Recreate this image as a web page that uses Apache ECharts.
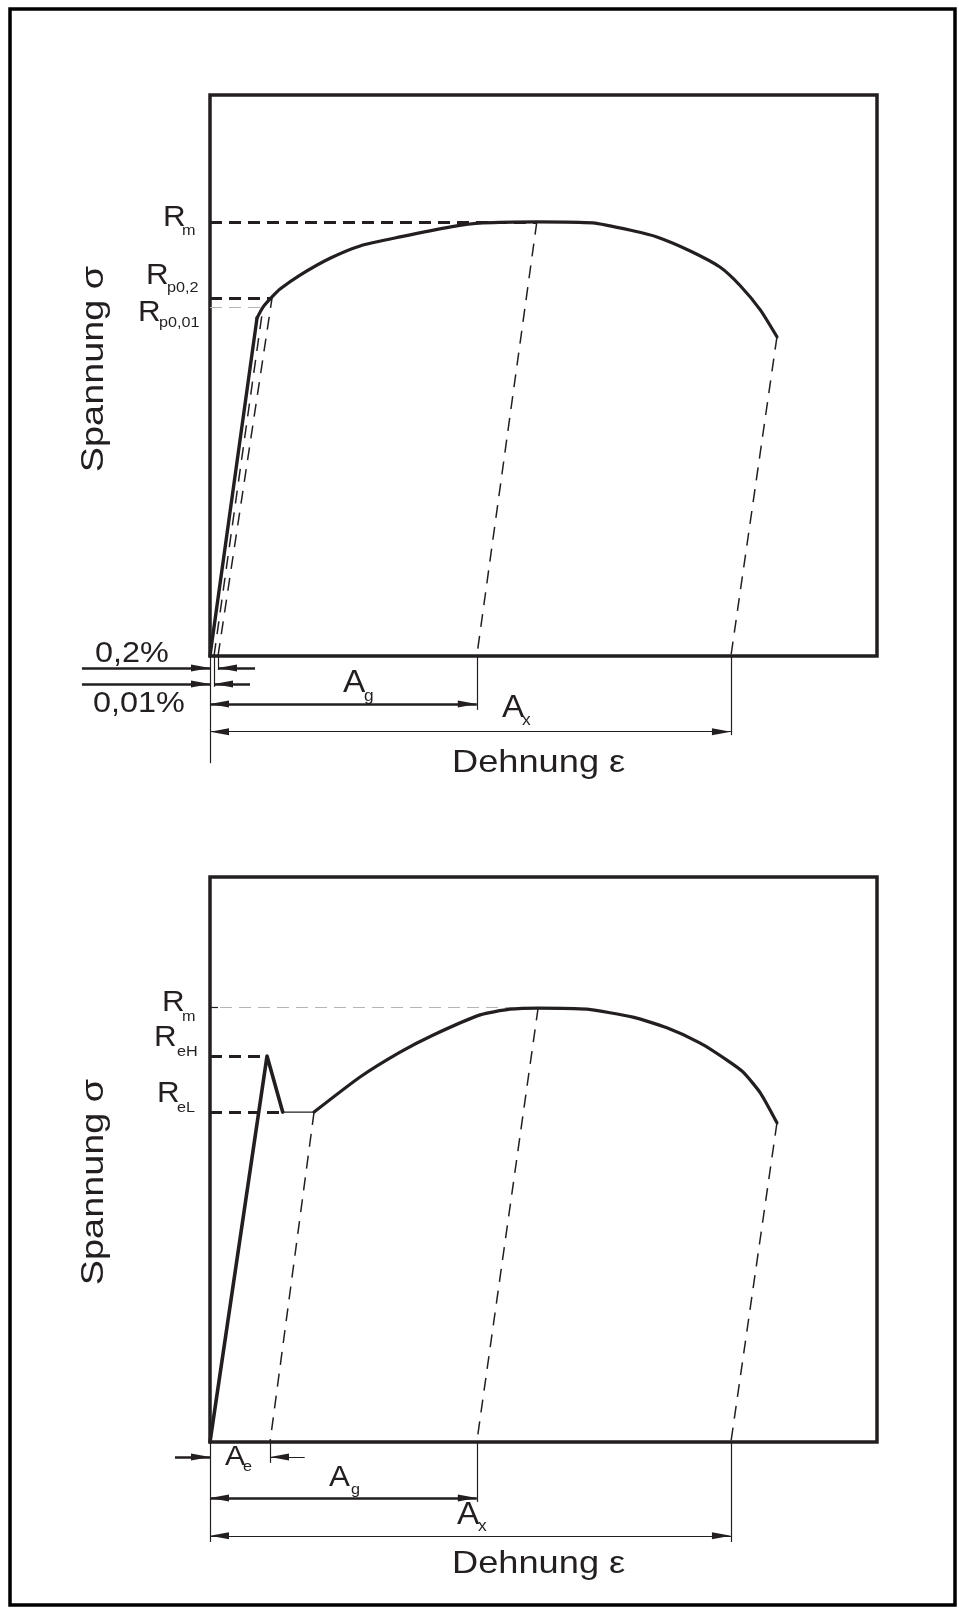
<!DOCTYPE html>
<html>
<head>
<meta charset="utf-8">
<script src="https://cdn.jsdelivr.net/npm/echarts@6/dist/echarts.min.js"></script>
<style>
html, body { margin: 0; padding: 0; background: #fff; }
#main { width: 959px; height: 1609px; }
</style>
</head>
<body>
<div id="main"></div>
<script>
// Two stress-strain sketches. Units are arbitrary: strain 0..100 across the box,
// stress 0..100 up the box.
var INK = '#231f20';
var GREY = '#b4b4b4';

// upper: continuous yielding
var upperCurve = [[0, 0], [7.05, 60.25], [7.95, 62.2], [9.3, 64.0], [10.5, 65.4], [13.5, 67.9],
  [18.0, 70.9], [22.5, 73.1], [28.5, 74.7], [36.1, 76.5], [40.9, 77.2], [49.0, 77.4], [57.4, 77.2],
  [63.4, 75.8], [67.0, 74.7], [72.0, 72.2], [76.5, 69.3], [79.5, 66.0], [82.5, 61.7], [85.0, 56.9]];
var upperLevels = [77.4, 63.8, 62.2];          // Rm, Rp0,2, Rp0,01
var upperLevelX = [49.0, 9.3, 7.95];           // where each level meets the curve
var upperOffsets = [1.2, 0.6];                 // 0,2 % and 0,01 % offset on the strain axis
var upperStrains = [40.0, 78.1];               // Ag, Ax

// lower: yield point
var lowerYield = [[0, 0], [8.55, 68.3], [10.9, 58.4]];
var lowerPlateau = [[10.9, 58.4], [15.6, 58.4]];
var lowerCurve = [[15.6, 58.4], [22.5, 64.6], [28.5, 69.0], [33.4, 72.0], [40.5, 75.6], [45.0, 76.6],
  [49.2, 76.8], [56.5, 76.6], [63.4, 75.2], [68.5, 73.3], [73.5, 70.6], [77.5, 67.6], [79.9, 65.5],
  [82.5, 61.8], [85.0, 56.5]];
var lowerLevels = [76.9, 68.3, 58.4];          // Rm, ReH, ReL
var lowerLevelX = [49.2, 8.55, 10.9];
var lowerStrains = [9.0, 40.0, 78.1];          // Ae, Ag, Ax

var ARROW_L = 'path://M0,5L20,0L20,10Z';
var ARROW_R = 'path://M20,5L0,0L0,10Z';

function segs(list, gi, style) {
  return {
    type: 'lines', coordinateSystem: 'cartesian2d', xAxisIndex: gi, yAxisIndex: gi,
    clip: false, silent: true, animation: false,
    lineStyle: Object.assign({ color: INK, opacity: 1, curveness: 0 }, style),
    data: list.map(function (s) { return { coords: s }; })
  };
}

function curve(pts, gi, width, smooth) {
  return {
    type: 'line', xAxisIndex: gi, yAxisIndex: gi, data: pts, showSymbol: false, symbol: 'none',
    clip: false, silent: true, animation: false, smooth: smooth || false,
    lineStyle: { color: INK, width: width, join: 'round', cap: 'round' }
  };
}

function arrows(points, dir, gi) {
  return {
    type: 'scatter', xAxisIndex: gi, yAxisIndex: gi, clip: false, silent: true, animation: false,
    symbol: dir < 0 ? ARROW_L : ARROW_R, symbolSize: [19, 7],
    symbolOffset: [dir < 0 ? 9.5 : -9.5, 0],
    itemStyle: { color: INK, opacity: 1 }, data: points
  };
}

var thickDash = { width: 3, type: [12, 7] };
var thinDash = { width: 1.5, type: [13, 9] };
var greyDash = { width: 1, type: [12, 7], color: GREY };

// dimension rows below each box (stress units, negative = below the strain axis)
var uRow = { p02: -2.14, p001: -5.0, ag: -8.56, ax: -13.5 };
var lRow = { ae: -2.65, ag: -9.9, ax: -16.6 };

var series = [
  // ---- upper ----
  curve(upperCurve.slice(0, 2), 0, 3.4),
  curve(upperCurve.slice(1), 0, 3.2, 0.2),
  segs([
    [[0, upperLevels[0]], [upperLevelX[0], upperLevels[0]]],
    [[0, upperLevels[1]], [upperLevelX[1], upperLevels[1]]]
  ], 0, thickDash),
  segs([[[0, upperLevels[2]], [upperLevelX[2], upperLevels[2]]]], 0, greyDash),
  segs([
    [[upperLevelX[0], upperLevels[0]], [upperStrains[0], 0]],
    [upperCurve[upperCurve.length - 1], [upperStrains[1], 0]],
    [[upperOffsets[0], 0], [upperLevelX[1], upperLevels[1]]],
    [[upperOffsets[1], 0], [upperLevelX[2], upperLevels[2]]]
  ], 0, thinDash),
  segs([
    [[-19.2, uRow.p02], [0, uRow.p02]], [[6.75, uRow.p02], [upperOffsets[0], uRow.p02]],
    [[-19.2, uRow.p001], [0, uRow.p001]], [[6.0, uRow.p001], [upperOffsets[1], uRow.p001]],
    [[0, uRow.ag], [upperStrains[0], uRow.ag]]
  ], 0, { width: 2.5 }),
  segs([
    [[0, uRow.ax], [upperStrains[1], uRow.ax]],
    [[0, 0], [0, -19.1]],
    [[upperStrains[0], 0], [upperStrains[0], -9.6]],
    [[upperStrains[1], 0], [upperStrains[1], -14.1]],
    [[upperOffsets[0], 0], [upperOffsets[0], -2.5]],
    [[upperOffsets[1], 0], [upperOffsets[1], -5.5]]
  ], 0, { width: 1.2 }),
  arrows([[0, uRow.p02], [0, uRow.p001], [upperStrains[0], uRow.ag], [upperStrains[1], uRow.ax]], 1, 0),
  arrows([[upperOffsets[0], uRow.p02], [upperOffsets[1], uRow.p001], [0, uRow.ag], [0, uRow.ax]], -1, 0),

  // ---- lower ----
  curve(lowerYield, 1, 3.6),
  curve(lowerPlateau, 1, 1.2),
  curve(lowerCurve, 1, 3.2, 0.2),
  segs([
    [[0, lowerLevels[1]], [lowerLevelX[1], lowerLevels[1]]],
    [[0, lowerLevels[2]], [lowerLevelX[2], lowerLevels[2]]]
  ], 1, thickDash),
  segs([[[1.5, lowerLevels[0]], [lowerLevelX[0], lowerLevels[0]]]], 1, greyDash),
  segs([[[0, lowerLevels[0]], [1.2, lowerLevels[0]]]], 1, { width: 1.2 }),
  segs([
    [[lowerLevelX[0], lowerLevels[0]], [lowerStrains[1], 0]],
    [lowerCurve[lowerCurve.length - 1], [lowerStrains[2], 0]],
    [lowerPlateau[1], [lowerStrains[0], 0]]
  ], 1, thinDash),
  segs([
    [[-5.25, lRow.ae], [0, lRow.ae]],
    [[0, lRow.ag], [lowerStrains[1], lRow.ag]]
  ], 1, { width: 2.5 }),
  segs([
    [[14.2, lRow.ae], [lowerStrains[0], lRow.ae]],
    [[0, lRow.ax], [lowerStrains[2], lRow.ax]],
    [[0, 0], [0, -17.7]],
    [[lowerStrains[0], 0], [lowerStrains[0], -3.7]],
    [[lowerStrains[1], 0], [lowerStrains[1], -10.6]],
    [[lowerStrains[2], 0], [lowerStrains[2], -17.7]]
  ], 1, { width: 1.2 }),
  arrows([[0, lRow.ae], [lowerStrains[1], lRow.ag], [lowerStrains[2], lRow.ax]], 1, 1),
  arrows([[lowerStrains[0], lRow.ae], [0, lRow.ag], [0, lRow.ax]], -1, 1)
];

var FONT = '"Liberation Sans", Arial, sans-serif';
function txt(x, y, s, size, sx) {
  return {
    type: 'text', x: x, y: y, scaleX: sx || 1.08, silent: true,
    style: { text: s, font: size + 'px ' + FONT, fill: INK, textAlign: 'left',
      verticalAlign: 'middle', textVerticalAlign: 'middle' }
  };
}
function vtitle(cx, cy) {
  return {
    type: 'text', x: cx, y: cy, rotation: Math.PI / 2, scaleX: 1.22, silent: true,
    style: { text: 'Spannung σ', font: '31px ' + FONT, fill: INK, textAlign: 'center',
      verticalAlign: 'middle', textVerticalAlign: 'middle' }
  };
}

var graphics = [
  { type: 'rect', silent: true, shape: { x: 10, y: 9, width: 945, height: 1596 },
    style: { fill: 'none', stroke: '#000', lineWidth: 3.5 } },
  vtitle(94, 369), vtitle(94, 1182),
  // upper labels
  txt(163, 217.5, 'R', 29), txt(182, 231, 'm', 15),
  txt(146, 276, 'R', 29), txt(167, 288, 'p0,2', 15),
  txt(138, 312.5, 'R', 29), txt(159, 323, 'p0,01', 15),
  txt(95, 654, '0,2%', 30), txt(93, 704, '0,01%', 30),
  txt(343, 683.5, 'A', 31), txt(364, 697, 'g', 16),
  txt(502, 708.5, 'A', 31), txt(522, 721, 'x', 16),
  txt(452, 763.5, 'Dehnung ε', 31.5, 1.15),
  // lower labels
  txt(162, 1002.5, 'R', 29), txt(182, 1017, 'm', 15),
  txt(154, 1037.5, 'R', 29), txt(177, 1052, 'eH', 15),
  txt(157, 1094, 'R', 29), txt(177, 1108, 'eL', 15),
  txt(225, 1457, 'A', 28), txt(243, 1467, 'e', 15),
  txt(329, 1477.5, 'A', 29), txt(351, 1490, 'g', 15),
  txt(457, 1515, 'A', 31), txt(478, 1527, 'x', 16),
  txt(452, 1564.5, 'Dehnung ε', 31.5, 1.15)
];

function axis(gi) {
  return { type: 'value', gridIndex: gi, min: 0, max: 100, show: false, splitLine: { show: false } };
}

var chart = echarts.init(document.getElementById('main'));
chart.setOption({
  animation: false,
  backgroundColor: '#fff',
  grid: [
    { left: 210, top: 95, width: 667, height: 561, show: true, borderColor: INK, borderWidth: 3.5 },
    { left: 210, top: 877, width: 667, height: 565, show: true, borderColor: INK, borderWidth: 3.5 }
  ],
  xAxis: [axis(0), axis(1)],
  yAxis: [axis(0), axis(1)],
  series: series,
  graphic: graphics
});
</script>
</body>
</html>
